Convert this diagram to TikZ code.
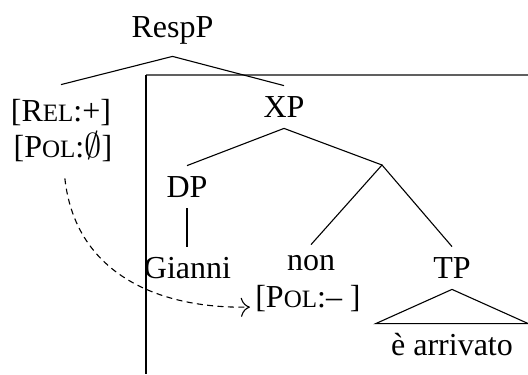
\documentclass[tikz,border=0pt]{standalone}
\usepackage{amssymb}
\usepackage{fontspec}
\setmainfont{Liberation Serif}
\usetikzlibrary{arrows.meta}
\newcommand{\fsc}[1]{{\fontsize{12.5}{15}\selectfont #1}}

\begin{document}
\begin{tikzpicture}[x=0.5pt, y=-0.5pt,
  lbl/.style={font=\fontsize{16}{19}\selectfont, anchor=base, inner xsep=0pt,
    inner ysep=5.5pt, text height=10pt, text depth=0pt},
  branch/.style={line width=0.55pt, draw=black},
  frame/.style={line width=0.55pt, draw=black},
  move/.style={-{To[length=1.6mm]}, dash pattern=on 3pt off 2.2pt, line width=0.55pt,
    shorten <=8.5pt, shorten >=2.5pt}
]
\useasboundingbox (0,0) rectangle (528,374);

\node[lbl, inner ysep=9pt] (respp) at (172.5,38) {RespP};
\node[lbl, inner ysep=3pt, text height=15pt] (rel) at (61,121) {[R\fsc{EL}:+]};
\node[lbl, inner ysep=2pt] (pol) at (63,157) {[P\fsc{OL}:$\emptyset$]};
\node[lbl] (xp) at (284,117) {XP};
\coordinate (xbar) at (382,165);
\node[lbl] (dp) at (187,197) {DP};
\node[lbl] (gianni) at (187.5,278) {Gianni};
\node[lbl, inner ysep=2.5pt] (non) at (311,270) {non};
\node[lbl] (polneg) at (308,307) {[P\fsc{OL}:-- ]};
\node[lbl] (tp) at (452,278) {TP};
\node[lbl, inner xsep=7.5pt] (earr) at (452,355) {è arrivato};

\draw[frame, draw=gray!75!black, line width=0.7pt] (528,75) -- (146,75);
\draw[frame] (146,75) -- (146,374);

\draw[branch] (rel.north) -- (respp.south) -- (xp.north);
\draw[branch] (dp.north) -- (xp.south) -- (xbar);
\draw[branch] (dp.south) -- (dp.south |- gianni.north);
\draw[branch] (non.north) -- (xbar) -- (tp.north);
\draw[branch] (earr.north west) -- (tp.south) -- (earr.north east) -- cycle;
\draw[move] (pol.south) .. controls +(12,110) and +(-100,2) .. (polneg.base west);

\end{tikzpicture}
\end{document}
